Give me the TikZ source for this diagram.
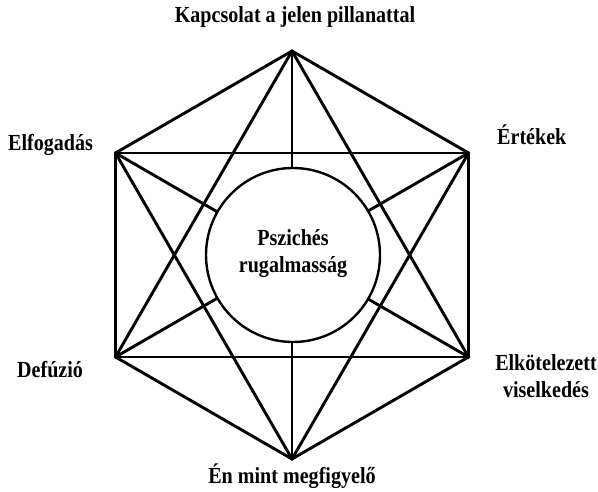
\documentclass[tikz,border=0pt]{standalone}
\usepackage{fontspec}
\usepackage{graphicx}
\setmainfont{Liberation Serif}
\newcommand{\mylab}[1]{\scalebox{1.03}[1.18]{\begin{tabular}{@{}c@{}}#1\end{tabular}}}
\begin{document}
\begin{tikzpicture}[x=1pt,y=-1pt,
  edge/.style={line width=2.9pt, line cap=round},
  lbl/.style={font=\fontsize{19.5}{23}\selectfont\bfseries, inner sep=0pt},
  vtx/.style={circle, fill=black, inner sep=0pt, minimum size=3.5pt}]
\useasboundingbox (0,0) rectangle (598,492);
\coordinate (T) at (292,51);
\coordinate (UL) at (115.5,153);
\coordinate (UR) at (468.5,153);
\coordinate (LL) at (115.5,357);
\coordinate (LR) at (468.5,357);
\coordinate (B) at (292,459);
% all connections
\foreach \a/\b in {T/UL,T/UR,UR/LR,LR/B,B/LL,LL/UL,
                   T/LL,T/LR,UL/UR,LL/LR,UL/B,UR/B,
                   T/B,UL/LR,UR/LL}
  \draw[edge] (\a) -- (\b);
\foreach \v in {T,UL,UR,LL,LR,B} \node[vtx] at (\v) {};
% central circle
\node[circle, draw, line width=2.4pt, fill=white, minimum size=174pt, inner sep=0pt] (C) at (293,255) {};
\node[lbl] (ct) at (293,254) {\mylab{Pszichés\\rugalmasság}};
% labels
\node[lbl] (lt) at (295,17) {\mylab{Kapcsolat a jelen pillanattal}};
\node[lbl, anchor=west] (lul) at (8,145) {\mylab{Elfogadás}};
\node[lbl, anchor=west] (lur) at (497,139) {\mylab{Értékek}};
\node[lbl, anchor=west] (lll) at (17,372) {\mylab{Defúzió}};
\node[lbl] (llr) at (546,379) {\mylab{Elkötelezett\\viselkedés}};
\node[lbl] (lb) at (292,478) {\mylab{Én mint megfigyelő}};
\end{tikzpicture}
\end{document}
